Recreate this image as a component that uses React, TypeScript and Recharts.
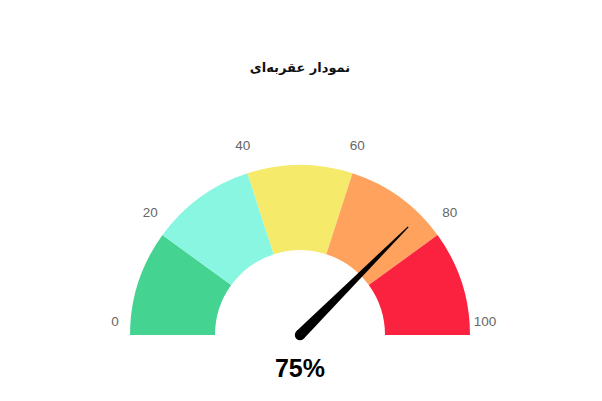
import React from "react";
import { PieChart, Pie, Cell } from "recharts";

const title = "نمودار عقربه‌ای";
const bands = ["0-20", "20-40", "40-60", "60-80", "80-100"];
const bandValues = [20, 20, 20, 20, 20];
const bandColors = ["#45D391", "#88F6E1", "#F5EA6A", "#FEA25D", "#FB223F"];
const tickLabels = ["0", "20", "40", "60", "80", "100"];
const gaugeValue = 75;

const W = 602;
const H = 401;
const CX = 300;
const CY = 335;
const INNER = 85;
const OUTER = 170;
const RAD = Math.PI / 180;

const data = bands.map((name, i) => ({ name, value: bandValues[i] }));

function tickText(angle: number, label: string, key: string) {
  const r = OUTER + 15;
  const x = CX + r * Math.cos(-angle * RAD);
  const y = CY - 14 + r * Math.sin(-angle * RAD);
  return (
    <text
      key={key}
      x={x}
      y={y}
      textAnchor="middle"
      dominantBaseline="central"
      fill="#666"
      fontSize={13.5}
      fontFamily="Liberation Sans, Arial, sans-serif"
    >
      {label}
    </text>
  );
}

function renderTick(props: any) {
  const { startAngle, endAngle, index } = props;
  const items = [tickText(startAngle, tickLabels[index], "s" + index)];
  if (index === bands.length - 1) {
    items.push(tickText(endAngle, tickLabels[index + 1], "e" + index));
  }
  return <g>{items}</g>;
}

function Needle() {
  const total = bandValues.reduce((a, b) => a + b, 0);
  const angle = 180 - (gaugeValue / total) * 180;
  const len = 153;
  const base = 5.2;
  const tip = 0.6;
  const cos = Math.cos(-angle * RAD);
  const sin = Math.sin(-angle * RAD);
  const px = -sin;
  const py = cos;
  const tx = CX + len * cos;
  const ty = CY + len * sin;
  const d = `M ${CX + base * px} ${CY + base * py} L ${tx + tip * px} ${ty + tip * py} L ${tx - tip * px} ${ty - tip * py} L ${CX - base * px} ${CY - base * py} Z`;
  return (
    <svg
      width={W}
      height={H}
      style={{ position: "absolute", left: 0, top: 0, pointerEvents: "none" }}
    >
      <circle cx={CX} cy={CY} r={base} fill="#000" />
      <path d={d} fill="#000" />
    </svg>
  );
}

export default function App() {
  return (
    <div style={{ position: "absolute", left: 0, top: 0, width: W, height: H, background: "#fff" }}>
      <PieChart width={W} height={H} margin={{ top: 0, right: 0, bottom: 0, left: 0 }}>
        <text
          x={CX}
          y={67}
          textAnchor="middle"
          dominantBaseline="central"
          fontSize={13}
          fontWeight="bold"
          fill="#111"
          fontFamily="DejaVu Sans, sans-serif"
        >
          {title}
        </text>
        <Pie
          data={data}
          dataKey="value"
          cx={CX}
          cy={CY}
          startAngle={180}
          endAngle={0}
          innerRadius={INNER}
          outerRadius={OUTER}
          stroke="none"
          label={renderTick}
          labelLine={false}
          isAnimationActive={false}
        >
          {data.map((d, i) => (
            <Cell key={d.name} fill={bandColors[i]} />
          ))}
        </Pie>
        <text
          x={CX}
          y={368}
          textAnchor="middle"
          dominantBaseline="central"
          fontSize={25}
          fontWeight="bold"
          fill="#000"
          fontFamily="Liberation Sans, Arial, sans-serif"
        >
          {gaugeValue}%
        </text>
      </PieChart>
      <Needle />
    </div>
  );
}
